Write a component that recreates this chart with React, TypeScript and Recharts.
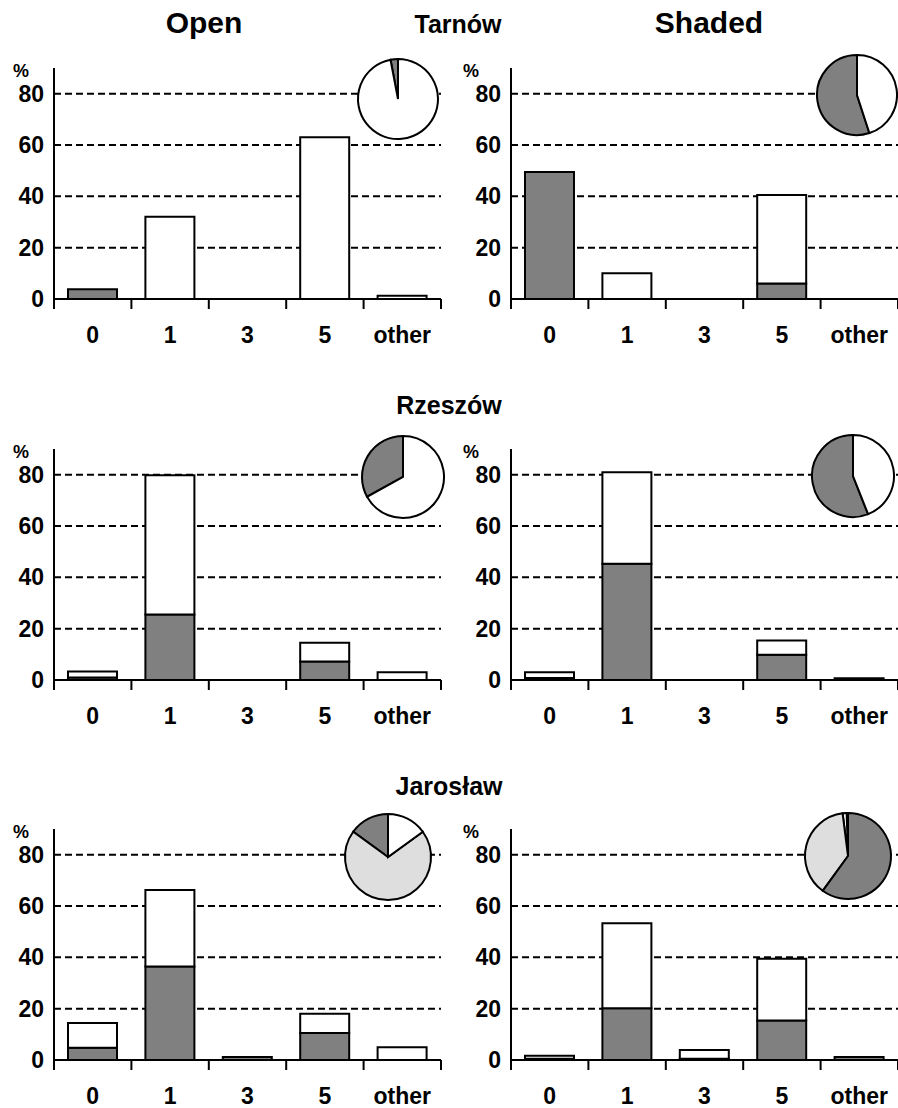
import React from "react";
import { BarChart, Bar, XAxis, YAxis, CartesianGrid, PieChart, Pie, Cell } from "recharts";

// categories on the x axis
const categories = ["0", "1", "3", "5", "other"];
const yTicks = [0, 20, 40, 60, 80];

// bars: grey = lower part, white = upper part (percent)
const tarnowOpenGrey = [3.8, 0, 0, 0, 0];
const tarnowOpenWhite = [0, 32, 0, 63, 1.3];
const tarnowShadedGrey = [49.5, 0, 0, 6, 0];
const tarnowShadedWhite = [0, 10, 0, 34.5, 0];

const rzeszowOpenGrey = [1, 25.5, 0, 7.2, 0];
const rzeszowOpenWhite = [2.3, 54.3, 0, 7.3, 3];
const rzeszowShadedGrey = [0.8, 45.3, 0, 9.8, 0.7];
const rzeszowShadedWhite = [2.2, 35.6, 0, 5.6, 0];

const jaroslawOpenGrey = [4.8, 36.4, 1.2, 10.5, 0];
const jaroslawOpenWhite = [9.6, 29.8, 0, 7.5, 5];
const jaroslawShadedGrey = [0.5, 20.2, 0.5, 15.4, 1.2];
const jaroslawShadedWhite = [1.2, 33.1, 3.4, 24, 0];

// pie insets, slices listed counter-clockwise from 12 o'clock
const tarnowOpenPie = [
  { name: "grey", value: 3 },
  { name: "white", value: 97 },
];
const tarnowShadedPie = [
  { name: "grey", value: 55 },
  { name: "white", value: 45 },
];
const rzeszowOpenPie = [
  { name: "grey", value: 33 },
  { name: "white", value: 67 },
];
const rzeszowShadedPie = [
  { name: "grey", value: 56 },
  { name: "white", value: 44 },
];
const jaroslawOpenPie = [
  { name: "grey", value: 15 },
  { name: "light", value: 70 },
  { name: "white", value: 15 },
];
const jaroslawShadedPie = [
  { name: "black", value: 0.5 },
  { name: "white", value: 1.5 },
  { name: "light", value: 38 },
  { name: "grey", value: 60 },
];

const FILLS: Record<string, string> = {
  grey: "#808080",
  light: "#dedede",
  white: "#ffffff",
  black: "#000000",
};

const FONT = "'Liberation Sans', Arial, Helvetica, sans-serif";
const PLOT_W = 387;
const PLOT_H = 231;
const BAND = PLOT_W / categories.length;
const ZERO_Y = [299, 680, 1060];

const toRows = (grey: number[], white: number[]) =>
  categories.map((c, i) => ({ cat: c, grey: grey[i], white: white[i] }));

const XTick = (props: any) => {
  const { x, y, payload, index } = props;
  const half = BAND / 2;
  return (
    <g>
      <line x1={x - half} y1={y} x2={x - half} y2={y + 10} stroke="#000" strokeWidth={2} />
      {index === categories.length - 1 && (
        <line x1={x + half} y1={y} x2={x + half} y2={y + 10} stroke="#000" strokeWidth={2} />
      )}
      <text
        x={x}
        y={y + 44}
        textAnchor="middle"
        fontSize={23}
        fontWeight="bold"
        fontFamily={FONT}
        fill="#000"
      >
        {payload.value}
      </text>
    </g>
  );
};

interface PanelProps {
  left: number;
  row: number;
  axisX: number;
  grey: number[];
  white: number[];
  pie: { name: string; value: number }[];
  pieX: number;
  pieY: number;
  pieR: number;
}

function Panel({ left, row, axisX, grey, white, pie, pieX, pieY, pieR }: PanelProps) {
  const top = ZERO_Y[row] - PLOT_H - 10;
  const size = pieR * 2 + 8;
  return (
    <>
      <div style={{ position: "absolute", left, top }}>
        <BarChart
          width={axisX + PLOT_W + 4}
          height={10 + PLOT_H + 60}
          data={toRows(grey, white)}
          margin={{ top: 10, right: 4, bottom: 0, left: 0 }}
          barSize={49}
        >
          <CartesianGrid
            horizontal
            vertical={false}
            syncWithTicks
            stroke="#000"
            strokeWidth={2}
            strokeDasharray="7 4"
          />
          <XAxis
            dataKey="cat"
            height={60}
            axisLine={{ stroke: "#000", strokeWidth: 2 }}
            tickLine={false}
            tickSize={0}
            tickMargin={0}
            interval={0}
            tick={<XTick />}
          />
          <YAxis
            width={axisX}
            domain={[0, 90]}
            ticks={yTicks}
            interval={0}
            axisLine={{ stroke: "#000", strokeWidth: 2 }}
            tickLine={false}
            tickSize={0}
            tickMargin={10}
            tick={{ fill: "#000", fontSize: 23, fontWeight: "bold", fontFamily: FONT }}
          />
          <Bar dataKey="grey" stackId="a" fill={FILLS.grey} stroke="#000" strokeWidth={2} isAnimationActive={false} />
          <Bar dataKey="white" stackId="a" fill={FILLS.white} stroke="#000" strokeWidth={2} isAnimationActive={false} />
        </BarChart>
      </div>
      <div style={{ position: "absolute", left: pieX - size / 2, top: pieY - size / 2 }}>
        <PieChart width={size} height={size} margin={{ top: 0, right: 0, bottom: 0, left: 0 }}>
          <Pie
            data={pie}
            dataKey="value"
            cx="50%"
            cy="50%"
            innerRadius={0}
            outerRadius={pieR}
            startAngle={90}
            endAngle={450}
            stroke="#000"
            strokeWidth={2}
            isAnimationActive={false}
          >
            {pie.map((s, i) => (
              <Cell key={i} fill={FILLS[s.name]} />
            ))}
          </Pie>
        </PieChart>
      </div>
    </>
  );
}

export default function App() {
  const titleStyle = { fontFamily: FONT, fontWeight: "bold" as const, fill: "#000" };
  return (
    <div
      style={{
        position: "absolute",
        left: 0,
        top: 0,
        width: 898,
        height: 1108,
        background: "#fff",
        overflow: "hidden",
      }}
    >
      <svg width={898} height={1108} style={{ position: "absolute", left: 0, top: 0 }}>
        <text x={204} y={33} textAnchor="middle" fontSize={30} {...titleStyle}>Open</text>
        <text x={709} y={33} textAnchor="middle" fontSize={30} {...titleStyle}>Shaded</text>
        <text x={458} y={33} textAnchor="middle" fontSize={25} {...titleStyle}>Tarnów</text>
        <text x={449} y={414} textAnchor="middle" fontSize={25} {...titleStyle}>Rzeszów</text>
        <text x={449} y={795} textAnchor="middle" fontSize={25} {...titleStyle}>Jarosław</text>
        {ZERO_Y.map((z) => (
          <g key={z}>
            <text x={13} y={z - 222} fontSize={18} {...titleStyle}>%</text>
            <text x={463} y={z - 222} fontSize={18} {...titleStyle}>%</text>
          </g>
        ))}
      </svg>

      <Panel left={0} row={0} axisX={54} grey={tarnowOpenGrey} white={tarnowOpenWhite}
        pie={tarnowOpenPie} pieX={398} pieY={99} pieR={40} />
      <Panel left={450} row={0} axisX={61} grey={tarnowShadedGrey} white={tarnowShadedWhite}
        pie={tarnowShadedPie} pieX={857} pieY={95} pieR={40} />

      <Panel left={0} row={1} axisX={54} grey={rzeszowOpenGrey} white={rzeszowOpenWhite}
        pie={rzeszowOpenPie} pieX={403} pieY={477} pieR={41} />
      <Panel left={450} row={1} axisX={61} grey={rzeszowShadedGrey} white={rzeszowShadedWhite}
        pie={rzeszowShadedPie} pieX={853} pieY={476} pieR={41} />

      <Panel left={0} row={2} axisX={54} grey={jaroslawOpenGrey} white={jaroslawOpenWhite}
        pie={jaroslawOpenPie} pieX={388} pieY={857} pieR={43} />
      <Panel left={450} row={2} axisX={61} grey={jaroslawShadedGrey} white={jaroslawShadedWhite}
        pie={jaroslawShadedPie} pieX={848} pieY={856} pieR={43} />
    </div>
  );
}
